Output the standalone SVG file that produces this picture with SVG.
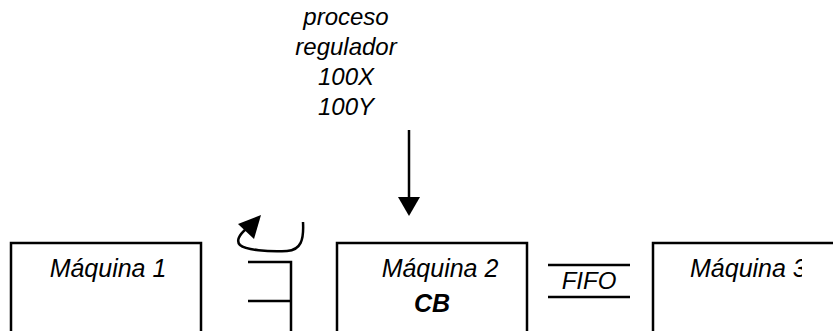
<svg xmlns="http://www.w3.org/2000/svg" width="833" height="331" viewBox="0 0 833 331">
<style>
.t{font-family:"Liberation Sans",Arial,sans-serif;font-size:25px;font-style:italic;fill:#000}
.s{font-size:24px}
.b{font-weight:bold}
.box{fill:#fff;stroke:#000;stroke-width:2.5}
.ln{fill:none;stroke:#000;stroke-width:2.5}
</style>
<defs>
<clipPath id="c3"><rect x="0" y="0" width="802" height="331"/></clipPath>
</defs>
<rect width="833" height="331" fill="#fff"/>
<g id="label-top">
<text class="t s" x="346" y="25" text-anchor="middle">proceso</text>
<text class="t s" x="346" y="55" text-anchor="middle">regulador</text>
<text class="t s" x="346" y="85" text-anchor="middle">100X</text>
<text class="t s" x="346" y="115" text-anchor="middle">100Y</text>
</g>
<g id="maquina1">
<rect class="box" x="11" y="243" width="190" height="100"/>
<text class="t" x="108" y="277" text-anchor="middle">Máquina 1</text>
</g>
<g id="maquina2">
<rect class="box" x="337" y="243" width="190" height="100"/>
<text class="t" x="440" y="277" text-anchor="middle">Máquina 2</text>
<text class="t b" x="432" y="312" text-anchor="middle">CB</text>
</g>
<g id="maquina3">
<rect class="box" x="653" y="243" width="200" height="100"/>
<text class="t" x="690" y="277" clip-path="url(#c3)">Máquina 3</text>
</g>
<g id="fifo">
<line class="ln" x1="548" y1="265" x2="630" y2="265"/>
<line class="ln" x1="548" y1="297" x2="630" y2="297"/>
<text class="t s" x="589" y="289" text-anchor="middle">FIFO</text>
</g>
<g id="buffer">
<polyline class="ln" points="248,262 291,262 291,331"/>
<line class="ln" x1="248" y1="301" x2="291" y2="301"/>
</g>
<g id="connectors">
<line class="ln" x1="409" y1="130" x2="409" y2="199"/>
<polygon points="398,197 420,197 409,216" fill="#000"/>
<path class="ln" d="M303,222 C304,240 301,250 287,251 C268,252 246,250 240,245 C236,241 239,235 246,229"/>
<polygon points="238,224 261,215 254,239" fill="#000"/>
</g>
</svg>
